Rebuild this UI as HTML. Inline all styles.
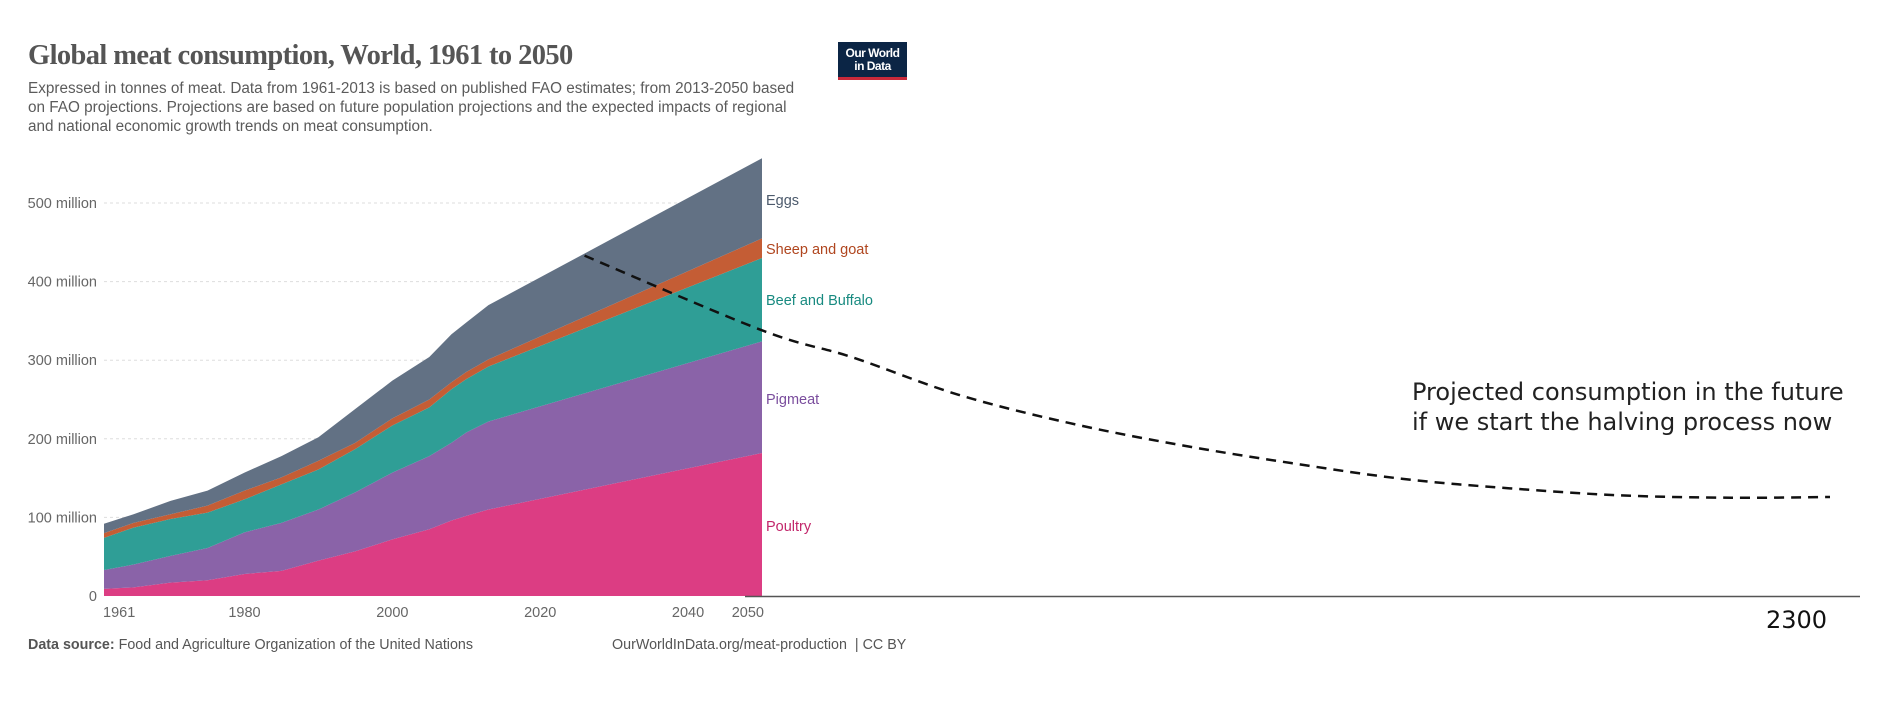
<!DOCTYPE html>
<html><head><meta charset="utf-8">
<style>
html,body{margin:0;padding:0;background:#fff;}
body{width:1891px;height:702px;overflow:hidden;position:relative;font-family:"Liberation Sans",sans-serif;}
.t{position:absolute;white-space:nowrap;}
</style></head>
<body>
<div class="t" style="left:28px;top:40px;font-family:'Liberation Serif',serif;font-size:28.5px;color:#555;letter-spacing:-0.6px;font-weight:bold;">Global meat consumption, World, 1961 to 2050</div>
<div class="t" style="left:28px;top:79px;font-size:15.3px;line-height:19px;color:#5b5b5b;">Expressed in tonnes of meat. Data from 1961-2013 is based on published FAO estimates; from 2013-2050 based<br>on FAO projections. Projections are based on future population projections and the expected impacts of regional<br>and national economic growth trends on meat consumption.</div>
<div style="position:absolute;left:838px;top:42px;width:69px;height:38px;background:#0b2545;border-bottom:3px solid #c8293a;color:#fff;font-size:12px;line-height:13px;text-align:center;font-weight:bold;padding-top:5px;box-sizing:border-box;letter-spacing:-0.5px;">Our World<br>in Data</div>

<svg id="chart" width="1891" height="702" style="position:absolute;left:0;top:0;"></svg>

<div class="t" style="left:1412px;top:377px;font-family:'DejaVu Sans',sans-serif;font-size:24px;line-height:30px;color:#222;">Projected consumption in the future<br>if we start the halving process now</div>
<div class="t" style="left:1766px;top:606px;font-family:'DejaVu Sans',sans-serif;font-size:24px;color:#111;">2300</div>
<div class="t" style="left:28px;top:637px;font-size:14.3px;color:#555;"><b>Data source:</b> Food and Agriculture Organization of the United Nations</div>
<div class="t" style="left:612px;top:637px;font-size:14.3px;color:#555;">OurWorldInData.org/meat-production &nbsp;| CC BY</div>

<script>
const years = [1961,1965,1970,1975,1980,1985,1990,1995,2000,2005,2008,2010,2013,2050];
const poultry = [9,11,17,20,28,32,45,57,72,85,96,102,110,182];
const pigmeat = [24,29,34,41,53,61,65,75,85,93,99,106,112,142];
const beef = [41,47,47,45,42,49,51,55,60,62,68,68,70,106];
const sheep = [6,6,6,9,11,9,11,8,9,10,9,9,9,25];
const eggs = [12,11,17,19,23,27,30,43,48,54,61,63,69,102];
const yTicks = [0,100,200,300,400,500];
const yTickLabels = ["0","100 million","200 million","300 million","400 million","500 million"];
const xTicks = [1961,1980,2000,2020,2040,2050];
const projYears = [2026,2050,2071,2096,2122,2148,2174,2200,2225,2251,2277,2300];
const projValues = [433,338,304,256,220,192,169,149,137,128,125,126];

const NS="http://www.w3.org/2000/svg";
const svg=document.getElementById('chart');
const x0=104,x1=762,y0=596,pxPerM=0.786;
const xs=y=>x0+(y-1961)*(x1-x0)/(2050-1961);
const xsExt=y=>y<=2050?xs(y):x1+(y-2050)*(1830-x1)/(2300-2050);
const ys=v=>y0-v*pxPerM;
function mk(tag,attrs){const e=document.createElementNS(NS,tag);for(const k in attrs)e.setAttribute(k,attrs[k]);svg.appendChild(e);return e;}

yTicks.forEach((v,i)=>{
  if(v>0){const g=mk('line',{x1:x0,x2:x1,y1:ys(v),y2:ys(v),stroke:'#ddd','stroke-dasharray':'3,3'});
  
  }
  const t=mk('text',{x:97,y:ys(v)+5,'text-anchor':'end','font-size':14.5,fill:'#666','font-family':'Liberation Sans, sans-serif'});
  t.textContent=yTickLabels[i];
  
  
});
xTicks.forEach((v,i)=>{
  const t=mk('text',{x:xs(v),y:617,'text-anchor':i==0?'start':(v==2050?'end':'middle'),'font-size':14.5,fill:'#666','font-family':'Liberation Sans, sans-serif'});
  if(i==0)t.setAttribute('x',xs(v)-1);
  if(v==2050)t.setAttribute('x',xs(v)+2);
  t.textContent=v;
  
  
});

const series=[
 {name:'poultry',vals:poultry,fill:'#dc3d83',lc:'#c2276b',label:'Poultry'},
 {name:'pigmeat',vals:pigmeat,fill:'#8a63a8',lc:'#7a4d9d',label:'Pigmeat'},
 {name:'beef-and-buffalo',vals:beef,fill:'#2f9e96',lc:'#188a80',label:'Beef and Buffalo'},
 {name:'sheep-and-goat',vals:sheep,fill:'#c45d35',lc:'#b0461f',label:'Sheep and goat'},
 {name:'eggs',vals:eggs,fill:'#627184',lc:'#4c5a6c',label:'Eggs'}];
let base=years.map(()=>0);
const labelY={'poultry':526,'pigmeat':399,'beef-and-buffalo':300,'sheep-and-goat':249,'eggs':200};
series.forEach(s=>{
  const top=base.map((b,i)=>b+s.vals[i]);
  let d='M'+years.map((y,i)=>xs(y)+','+ys(top[i])).join(' L');
  for(let i=years.length-1;i>=0;i--)d+=' L'+xs(years[i])+','+ys(base[i]);
  const p=mk('path',{d:d+'Z',fill:s.fill});
  
  
  const t=mk('text',{x:766,y:labelY[s.name]+5,'font-size':14.5,fill:s.lc,'font-family':'Liberation Sans, sans-serif'});
  t.textContent=s.label;
  
  
  base=top;
});

const ax=mk('line',{x1:745,x2:1860,y1:596.5,y2:596.5,stroke:'#555','stroke-width':1.5});



const pts=projYears.map((y,i)=>[xsExt(y),ys(projValues[i])]);
let d='M'+pts[0][0]+','+pts[0][1];
for(let i=0;i<pts.length-1;i++){
  const p0=pts[Math.max(i-1,0)],p1=pts[i],p2=pts[i+1],p3=pts[Math.min(i+2,pts.length-1)];
  d+=' C'+(p1[0]+(p2[0]-p0[0])/6)+','+(p1[1]+(p2[1]-p0[1])/6)+' '+(p2[0]-(p3[0]-p1[0])/6)+','+(p2[1]-(p3[1]-p1[1])/6)+' '+p2[0]+','+p2[1];
}
const dl=mk('path',{d:d,fill:'none',stroke:'#111','stroke-width':2.5,'stroke-dasharray':'10,7'});


</script>
</body></html>
